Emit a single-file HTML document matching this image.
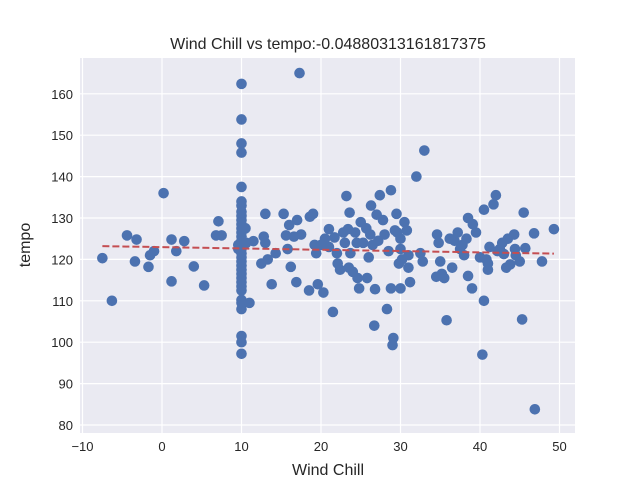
<!DOCTYPE html>
<html><head><meta charset="utf-8"><style>
body{margin:0;background:#fff;font-family:"Liberation Sans","DejaVu Sans",sans-serif;}
</style></head><body>
<svg id="chart" width="640" height="480" xmlns="http://www.w3.org/2000/svg">
<rect x="80" y="58" width="495" height="375" fill="#eaeaf2"/>
<g id="grid"></g><g id="ticks"></g><g id="pts"></g><g id="fit"></g>
<text x="328" y="49" text-anchor="middle" font-size="16" fill="#262626">Wind Chill vs tempo:-0.04880313161817375</text>
<text x="328" y="475" text-anchor="middle" font-size="16" fill="#262626">Wind Chill</text>
<text transform="translate(30,245) rotate(-90)" text-anchor="middle" font-size="16" fill="#262626">tempo</text>
</svg>
<script>
const xTicks=[-10,0,10,20,30,40,50];
const yTicks=[80,90,100,110,120,130,140,150,160];
const windChill=[-7.5,-6.3,-4.4,-3.2,-3.4,-1.7,-1.5,-1,0.2,1.2,1.2,1.8,2.8,4,5.3,6.8,7.1,7.5,
10,10,10,10,10,10,10,10,10,10,10,10,10,10,10,10,10,10,10,10,10,10,10,10,10,10,10,10,10,10,10,10,10,9.6,9.6,10.5,10.6,11,
11.5,12.5,12.8,13,13.3,13,13.8,14.3,15.3,15.6,15.8,16,16.2,16.6,16.9,17,17.3,17.5,18.5,18.6,19,19.2,19.4,19.6,20,20.3,20.5,21,21,21.5,21.7,22,22.1,22.4,22.8,23,23.2,23.4,23.5,23.6,23.7,24,24.3,24.5,24.6,24.8,25,25.3,25.7,25.8,26,26.2,26.3,26.5,26.7,26.8,27,27.2,27.4,27.8,28,28.3,28.5,28.8,28.8,29,29.1,29.3,29.5,29.6,29.8,30,30,30,30.2,30.5,30.8,31,31.2,31,32,32.5,32.8,33,34.5,34.6,34.8,35.2,35,35.5,35.8,36.2,36.5,36.8,37.2,37.5,37.8,38,38.3,38.5,38.5,39,39.1,39.5,40,40.3,40.5,40.5,40.8,41,41.2,41,41.7,42,42.2,42.5,43,43.3,43.5,43.8,44.3,44.5,45,45.3,45.5,45.7,46.8,46.9,47.8,49.3,44.4,42.8];
const tempo=[120.3,110,125.8,124.8,119.5,118.2,121,122,136,124.8,114.7,122,124.4,118.3,113.7,125.8,129.2,125.8,
162.4,153.8,148,145.8,137.5,134,133,131.5,130.5,129.5,128.5,127.5,126.5,125.5,124.5,123.5,122.5,121.5,120.5,119.5,118.5,117.5,116.5,115.5,114.5,113.5,112.5,110.2,108,101.5,100,97.2,109.5,123.5,122.5,127.5,124,109.5,
124.4,119,125.5,131,120,124,114,121.5,131,125.8,122.5,128.3,118.2,125.5,114.5,129.5,165,126,112.5,130.3,131,123.5,121.5,114,123.5,112,125,127.3,123,107.3,125.3,121.5,119,117.5,126.5,124,135.3,127.3,118,131.3,121.5,117,126.5,124,115.5,113,129,124,127.5,115.5,120.5,126,133,123.5,104,112.8,130.8,124.5,135.5,129.5,126,108,122,113,136.7,99.3,101,127,131,126.5,119,113,125,122.5,120,129,127,121,114.5,118,140,121.5,119.5,146.3,115.8,126,124,116.5,119.5,115.5,105.3,125,118,124.5,126.5,122.5,123.5,121,125,130,116,113,128.5,126.5,120.5,97,110,132,120,119,123,117.5,133.3,135.5,122,122.5,121.3,118,125,118.8,126,121,119.5,105.5,131.3,122.7,126.3,83.8,119.5,127.3,122.5,124];
const fitX=[-7.5,49.3];
const fitY=[123.2,121.4];
const sx=v=>162+7.95*v, sy=v=>425-(v-80)*4.14;
const NS="http://www.w3.org/2000/svg";
function mk(t,a,p){const e=document.createElementNS(NS,t);for(const k in a)e.setAttribute(k,a[k]);p.appendChild(e);return e;}
const grid=document.getElementById('grid'),ticks=document.getElementById('ticks'),pts=document.getElementById('pts'),fit=document.getElementById('fit');
xTicks.forEach(v=>{const l=mk('line',{x1:sx(v),x2:sx(v),y1:58,y2:433,stroke:'#fff','stroke-width':1.2},grid);


const t=mk('text',{x:sx(v),y:451,'text-anchor':'middle','font-size':13,fill:'#262626'},ticks);t.textContent=String(v).replace('-','\u2212');

});
yTicks.forEach(v=>{const l=mk('line',{x1:80,x2:575,y1:sy(v),y2:sy(v),stroke:'#fff','stroke-width':1.2},grid);


const t=mk('text',{x:73,y:sy(v)+5,'text-anchor':'end','font-size':13,fill:'#262626'},ticks);t.textContent=v;

});
windChill.forEach((x,i)=>{const c=mk('circle',{cx:sx(x),cy:sy(tempo[i]),r:5.3,fill:'#4c72b0'},pts);

});
const ln=mk('line',{x1:sx(fitX[0]),y1:sy(fitY[0]),x2:sx(fitX[1]),y2:sy(fitY[1]),stroke:'#c44e52','stroke-width':2,'stroke-dasharray':'7,3'},fit);


</script>
</body></html>
